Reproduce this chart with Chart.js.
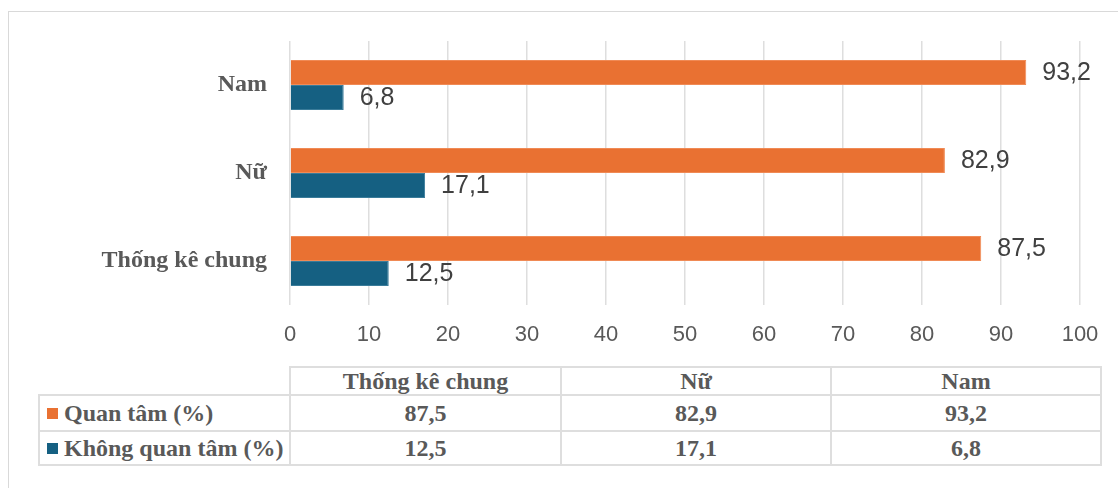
<!DOCTYPE html>
<html>
<head>
<meta charset="utf-8">
<script src="https://cdn.jsdelivr.net/npm/chart.js@4"></script>
<style>
  html, body { margin: 0; padding: 0; background: #fff; width: 1118px; height: 488px; overflow: hidden; }
  #frame { position: absolute; left: 8px; top: 11px; width: 1200px; height: 600px; border: 1px solid #d9d9d9; }
  #chart { position: absolute; left: 0; top: 0; }
  #dataTable {
    position: absolute; left: 38px; top: 366px;
    border-collapse: collapse; table-layout: fixed;
    font-family: "Liberation Serif", "Times New Roman", serif;
    font-weight: bold; font-size: 24px; color: #595959;
  }
  #dataTable td { border: 2px solid #dedede; text-align: center; padding: 0; line-height: 26px; white-space: nowrap; }
  #dataTable td.empty { border: none; }
  #dataTable td.name { text-align: left; padding-left: 7px; }
  #dataTable tr.head td { height: 26px; }
  #dataTable tr.row1 td { height: 34px; }
  #dataTable tr.row2 td { height: 32px; }
  .swatch { display: inline-block; width: 11px; height: 11px; margin-right: 6px; vertical-align: 2px; }
</style>
</head>
<body>
<div id="frame"></div>
<canvas id="chart" width="1118" height="360"></canvas>
<table id="dataTable"></table>
<script>
// Data (table order: Thống kê chung, Nữ, Nam)
const categories = ['Thống kê chung', 'Nữ', 'Nam'];
const quanTam = [87.5, 82.9, 93.2];
const khongQuanTam = [12.5, 17.1, 6.8];
const seriesNames = ['Quan tâm (%)', 'Không quan tâm (%)'];
const seriesColors = ['#E97132', '#156082'];
const xTicks = [0, 10, 20, 30, 40, 50, 60, 70, 80, 90, 100];

function fmt(v) {
  return v.toFixed(1).replace('.', ',');
}

// value labels at the end of each bar
const valueLabels = {
  id: 'valueLabels',
  afterDatasetsDraw(chart) {
    const ctx = chart.ctx;
    ctx.save();
    ctx.font = '25px "Liberation Sans", Arial, sans-serif';
    ctx.fillStyle = '#404040';
    ctx.textAlign = 'left';
    ctx.textBaseline = 'middle';
    chart.data.datasets.forEach((ds, i) => {
      chart.getDatasetMeta(i).data.forEach((bar, j) => {
        ctx.fillText(fmt(ds.data[j]), bar.x + 16, bar.y + 1);
      });
    });
    ctx.restore();
  }
};

// chart shows Nam at the top, so reverse the table order
const chartLabels = categories.slice().reverse();

new Chart(document.getElementById('chart').getContext('2d'), {
  type: 'bar',
  data: {
    labels: chartLabels,
    datasets: [
      {
        label: seriesNames[0],
        data: quanTam.slice().reverse(),
        backgroundColor: seriesColors[0],
        borderColor: '#F08A55',
        borderWidth: 1,
        barPercentage: 1,
        categoryPercentage: 0.57
      },
      {
        label: seriesNames[1],
        data: khongQuanTam.slice().reverse(),
        backgroundColor: seriesColors[1],
        borderColor: '#3A7C9A',
        borderWidth: 1,
        barPercentage: 1,
        categoryPercentage: 0.57
      }
    ]
  },
  options: {
    indexAxis: 'y',
    responsive: false,
    animation: false,
    layout: { padding: { top: 41, right: 38, left: 0, bottom: 0 } },
    plugins: {
      legend: { display: false },
      tooltip: { enabled: false }
    },
    scales: {
      x: {
        min: 0,
        max: 100,
        afterBuildTicks: function (axis) {
          axis.ticks = xTicks.map(v => ({ value: v }));
        },
        afterFit: function (axis) { axis.height = 55; },
        grid: { color: '#dedede', lineWidth: 1.5, drawTicks: false },
        border: { display: false },
        ticks: {
          color: '#595959',
          padding: 17,
          font: { family: '"Liberation Sans", Arial, sans-serif', size: 22 }
        }
      },
      y: {
        afterFit: function (axis) { axis.width = 290; },
        grid: { display: false },
        border: { display: false },
        ticks: {
          color: '#595959',
          padding: 15,
          font: { family: '"Liberation Serif", "Times New Roman", serif', size: 24, weight: 'bold' }
        }
      }
    }
  },
  plugins: [valueLabels]
});

// data table under the chart
const table = document.getElementById('dataTable');
const colWidths = [251, 271, 270, 270];
let html = '<colgroup>' + colWidths.map(w => '<col style="width:' + w + 'px">').join('') + '</colgroup>';
html += '<tr class="head"><td class="empty"></td>' + categories.map(c => '<td>' + c + '</td>').join('') + '</tr>';
[quanTam, khongQuanTam].forEach((values, i) => {
  html += '<tr class="row' + (i + 1) + '"><td class="name"><span class="swatch" style="background:' + seriesColors[i] + '"></span>' + seriesNames[i] + '</td>' +
    values.map(v => '<td>' + fmt(v) + '</td>').join('') + '</tr>';
});
table.innerHTML = html;
</script>
</body>
</html>
